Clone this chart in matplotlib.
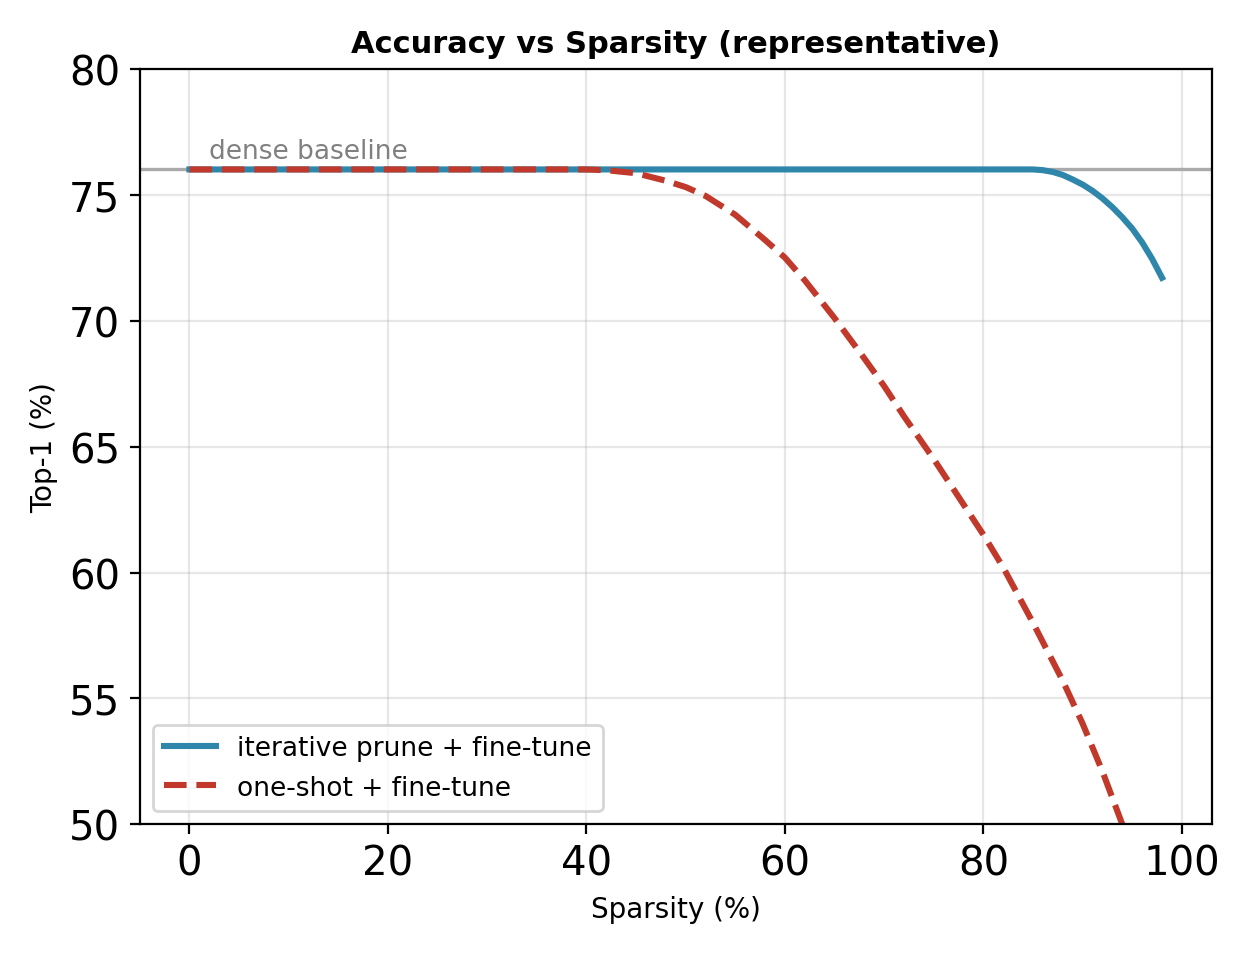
import matplotlib
matplotlib.use("Agg")
import matplotlib.pyplot as plt

iter_x = [0, 20, 40, 60, 80, 85, 86, 87, 88, 89, 90, 91, 92, 93, 94, 95, 96, 97, 98]
iter_y = [76, 76, 76, 76, 76, 76, 75.97, 75.9, 75.78, 75.6, 75.4, 75.15, 74.85, 74.5, 74.1, 73.65, 73.1, 72.45, 71.7]
one_x = [0, 20, 40, 42, 45, 48, 50, 52, 55, 58, 60, 62, 65, 68, 70, 72, 75, 78, 80, 82, 85, 88, 90, 92, 94]
one_y = [76, 76, 76, 75.97, 75.85, 75.55, 75.3, 74.95, 74.2, 73.2, 72.5, 71.6, 70.1, 68.5, 67.4, 66.2, 64.5, 62.7, 61.5, 60.2, 58.0, 55.7, 54.0, 52.1, 50.0]
baseline = 76

fig, ax = plt.subplots(figsize=(6.265, 4.77), dpi=200)
ax.axhline(baseline, color="#aaaaaa", lw=1.2)
ax.text(2, 76.2, "dense baseline", color="gray", fontsize=9.5, va="bottom")
ax.plot(iter_x, iter_y, color="#2e86ab", lw=2.2, label="iterative prune + fine-tune")
ax.plot(one_x, one_y, color="#c0392b", lw=2.2, ls="--", label="one-shot + fine-tune")
ax.set_xlim(-5, 103)
ax.set_ylim(50, 80)
ax.set_title("Accuracy vs Sparsity (representative)", fontsize=11, fontweight="bold")
ax.set_xlabel("Sparsity (%)", fontsize=10)
ax.set_ylabel("Top-1 (%)", fontsize=10)
ax.tick_params(labelsize=14.5)
ax.grid(alpha=0.3)
ax.legend(loc="lower left", fontsize=9.5)
fig.tight_layout()
fig.savefig("out.png", dpi=200)
